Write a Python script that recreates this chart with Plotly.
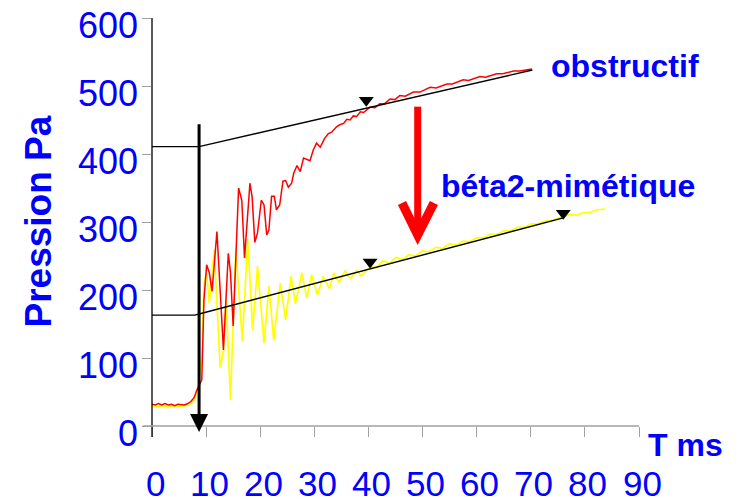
import plotly.graph_objects as go

# ---------------- data ----------------
yellow_t = [0, 1, 2, 3, 4, 5, 6, 7, 7.8, 8.4, 9.2, 9.6, 10.1, 10.6, 11.5, 12.6, 13.2, 13.7,
            14.5, 15.5, 16.7, 17.7, 18.6, 19.5, 20.7, 21.6, 22.5, 23.7, 24.7, 25.7, 26.5,
            27.7, 28.6, 29.5, 30.6, 31.6, 32.8, 33.6, 34.6, 35.7, 36.7, 37.8, 38.6, 40.3,
            41.5, 42.7, 43.9, 45.1, 46.3, 47.5, 48.7, 50, 51.2, 52.5, 53.7, 55, 56.2, 57.5,
            58.7, 60, 61.3, 62.5, 63.8, 65, 66.3, 67.5, 68.8, 70, 71.3, 72.5, 73.8, 75, 76,
            77.2, 78.5, 79.7, 81, 82.2, 83.7]
yellow_p = [29, 28, 30, 28, 29, 28, 30, 31, 38, 53, 102, 210, 225, 181, 259, 86, 110, 186,
            38, 259, 124, 275, 141, 235, 122, 206, 126, 210, 156, 220, 180,
            225, 188, 222, 193, 220, 202, 225, 211, 228, 217, 229, 221, 234,
            233, 243, 239, 248, 245, 252, 250, 258, 256, 263, 261, 268, 266, 272,
            271, 277, 277, 282, 282, 287, 287, 292, 292, 297, 297, 301, 302, 305, 307,
            311, 310, 314, 314, 318, 319]

red_t = [0, 0.6, 1.2, 1.8, 2.4, 3, 3.6, 4.2, 4.8, 5.4, 6, 6.6, 7.2, 7.8, 8.3, 9.2, 9.6,
         10.1, 10.6, 11.1, 12.0, 13.2, 14.1, 14.5, 15.0, 16.0, 16.6, 17.1, 18.1, 18.5,
         19.0, 19.5, 20.2, 20.7, 21.2, 21.6, 22.1, 22.6, 23.0, 23.6, 24.2, 24.7, 25.2,
         25.8, 26.2, 26.8, 27.4, 28.0, 28.6, 29.2, 29.8, 30.4, 31.1, 31.9, 32.6, 33.2,
         34.1, 34.7, 35.4, 36.0, 36.6, 37.2, 37.8, 38.5, 39.1, 40.3, 41.2, 42.1, 43.0,
         44.0, 44.9, 45.8, 46.8, 48.3, 49.5, 51.4, 52.5, 54.5, 55.5, 57.5, 58.5, 60.6,
         61.6, 63.7, 64.8, 66.8, 68, 70.2]
red_p = [32, 31, 33, 31, 33, 31, 32, 30, 32, 31, 31, 33, 36, 42, 53, 68, 185,
         237, 225, 198, 286, 112, 254, 226, 147, 350, 332, 247, 357, 337,
         270, 284, 332, 325, 281, 288, 338, 338, 318, 325, 360, 361, 351,
         357, 372, 383, 374, 394, 392, 390, 406, 416, 410, 423, 430, 432,
         440, 443, 445, 451, 450, 456, 455, 462, 461, 469, 468, 474, 474,
         481, 480, 486, 485, 491, 491, 498, 497, 503, 503, 509, 508, 514,
         513, 518, 518, 522, 522, 525]

fit_obs_t = [0, 8.7, 70.3]
fit_obs_p = [410.8, 410.8, 523.5]
fit_beta_t = [0, 7.9, 8.7, 76.0]
fit_beta_p = [163, 163, 164.7, 306]

marker_t = [39.6, 40.3, 76.0]
marker_p = [479, 241, 313]

onset_t = 8.7
onset_p = [446, -9]

shift_t = 49.1
shift_p = [469.6, 290]
shift_head_t = [46.2, 49.1, 52.1]
shift_head_p = [328, 281, 328]

x_tick_vals = [0, 10, 20, 30, 40, 50, 60, 70, 80, 90]
x_tick_text = ['0', '10', '20', '30', '40', '50', '60', '70', '80', '90']
y_tick_vals = [0, 100, 200, 300, 400, 500, 600]
y_tick_text = ['0', '100', '200', '300', '400', '500', '600']

# ---------------- figure ----------------
FONT = "Liberation Sans, Arial, sans-serif"
BLUE = "#0000FF"
GREY = "#A0A0A0"

# the page body adds an 8px margin; the figure is sized to fill the rest
W, H = 732, 491
ML, MT, PW, PH = 144, 10, 487, 408
MR = W - ML - PW
MB = H - MT - PH

fig = go.Figure()
fig.add_trace(go.Scatter(x=yellow_t, y=yellow_p, mode="lines",
                         line=dict(color="#FFFF00", width=1.7), hoverinfo="skip"))
fig.add_trace(go.Scatter(x=red_t, y=red_p, mode="lines",
                         line=dict(color="#FF0000", width=1.5), hoverinfo="skip"))
fig.add_trace(go.Scatter(x=fit_obs_t, y=fit_obs_p, mode="lines",
                         line=dict(color="black", width=1.4), hoverinfo="skip"))
fig.add_trace(go.Scatter(x=fit_beta_t, y=fit_beta_p, mode="lines",
                         line=dict(color="black", width=1.4), hoverinfo="skip"))
fig.add_trace(go.Scatter(x=marker_t, y=marker_p, mode="markers",
                         marker=dict(symbol="triangle-down", size=13, color="black"),
                         hoverinfo="skip"))

# onset arrow (black)
fig.add_annotation(x=onset_t, y=onset_p[1], ax=onset_t, ay=onset_p[0],
                   xref="x", yref="y", axref="x", ayref="y", text="",
                   showarrow=True, arrowhead=2, arrowsize=1.2, arrowwidth=3,
                   arrowcolor="black", standoff=0)

# red shift arrow
fig.add_shape(type="line", xref="x", yref="y", x0=shift_t, x1=shift_t,
              y0=shift_p[0], y1=shift_p[1], line=dict(color="#FF0000", width=7))
fig.add_shape(type="path", xref="x", yref="y",
              path="M {} {} L {} {} L {} {}".format(shift_head_t[0], shift_head_p[0],
                                                   shift_head_t[1], shift_head_p[1],
                                                   shift_head_t[2], shift_head_p[2]),
              line=dict(color="#FF0000", width=9))

# axis lines
fig.add_shape(type="line", xref="paper", yref="paper", x0=0, x1=0, y0=-11 / PH, y1=1,
              line=dict(color="black", width=1.3))
fig.add_shape(type="line", xref="paper", yref="paper", x0=-9 / PW, x1=1, y0=0, y1=0,
              line=dict(color=GREY, width=1.3))

# tick labels
for v, s in zip(x_tick_vals, x_tick_text):
    fig.add_annotation(x=v, y=-57 / PH, xref="x", yref="paper", text=s, showarrow=False,
                       xshift=3, yanchor="middle", xanchor="center",
                       font=dict(family=FONT, size=35, color=BLUE))
for v, s in zip(y_tick_vals, y_tick_text):
    fig.add_annotation(x=-12 / PW, y=v, xref="paper", yref="y", text=s, showarrow=False,
                       yshift=-7, xanchor="right", yanchor="middle",
                       font=dict(family=FONT, size=36, color=BLUE))

# titles / labels
fig.add_annotation(x=-114.5 / PW, y=(426 - 222) / PH, xref="paper", yref="paper",
                   text="<b>Pression Pa</b>",
                   textangle=-90, showarrow=False, xanchor="center", yanchor="middle",
                   font=dict(family=FONT, size=37, color=BLUE))
fig.add_annotation(x=(685 - 152) / PW, y=(426 - 445) / PH, xref="paper", yref="paper",
                   text="<b>T ms</b>",
                   showarrow=False, xanchor="center", yanchor="middle",
                   font=dict(family=FONT, size=32, color=BLUE))
fig.add_annotation(x=(625 - 152) / PW, y=(426 - 66) / PH, xref="paper", yref="paper",
                   text="<b>obstructif</b>",
                   showarrow=False, xanchor="center", yanchor="middle",
                   font=dict(family=FONT, size=32, color=BLUE))
fig.add_annotation(x=(568 - 152) / PW, y=(426 - 186) / PH, xref="paper", yref="paper",
                   text="<b>béta2-mimétique</b>",
                   showarrow=False, xanchor="center", yanchor="middle",
                   font=dict(family=FONT, size=32, color=BLUE))

fig.update_xaxes(range=[0, 90], tickvals=x_tick_vals, showticklabels=False,
                 ticks="outside", ticklen=10, tickcolor=GREY, tickwidth=1,
                 showgrid=False, zeroline=False, showline=False)
fig.update_yaxes(range=[0, 600], tickvals=y_tick_vals, showticklabels=False,
                 ticks="outside", ticklen=9, tickcolor=GREY, tickwidth=1,
                 showgrid=False, zeroline=False, showline=False)

fig.update_layout(width=W, height=H, showlegend=False,
                  margin=dict(l=ML, r=MR, t=MT, b=MB),
                  paper_bgcolor="white", plot_bgcolor="white",
                  font=dict(family=FONT))

fig.write_html("out.html")
